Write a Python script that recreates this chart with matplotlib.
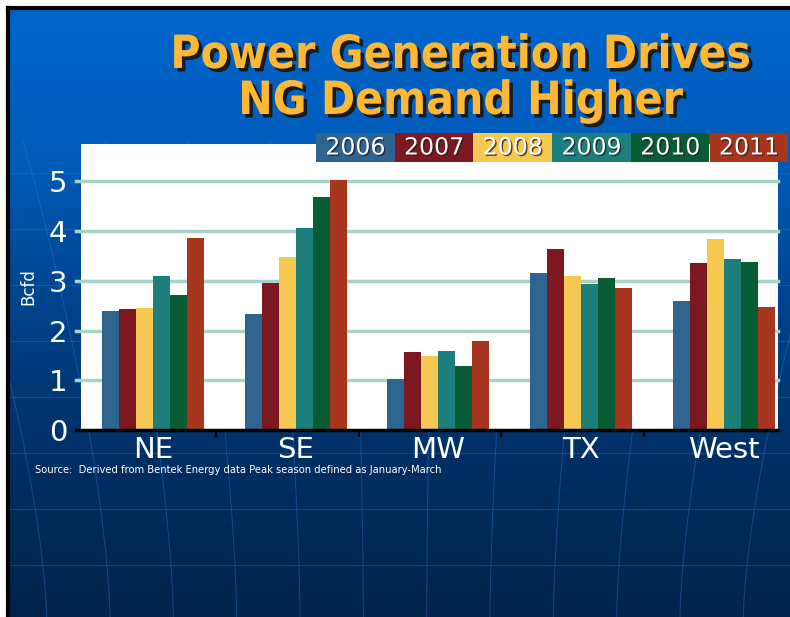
import numpy as np
import matplotlib
matplotlib.use("Agg")
import matplotlib.pyplot as plt
import matplotlib.patheffects as pe
from matplotlib.patches import Rectangle
from matplotlib.colors import LinearSegmentedColormap

regions = ["NE", "SE", "MW", "TX", "West"]
years = ["2006", "2007", "2008", "2009", "2010", "2011"]
colors = ["#2D6490", "#7D1821", "#F5C852", "#1C7F7B", "#0A5C34", "#A8361F"]

# Bcfd by region, one list per year
v2006 = [2.39, 2.33, 1.03, 3.16, 2.60]
v2007 = [2.43, 2.96, 1.57, 3.64, 3.36]
v2008 = [2.45, 3.48, 1.49, 3.10, 3.84]
v2009 = [3.10, 4.06, 1.59, 2.94, 3.44]
v2010 = [2.72, 4.69, 1.29, 3.06, 3.38]
v2011 = [3.86, 5.03, 1.79, 2.86, 2.47]
series = [v2006, v2007, v2008, v2009, v2010, v2011]

title = "Power Generation Drives\nNG Demand Higher"
source = "Source:  Derived from Bentek Energy data Peak season defined as January-March"

W, H = 790, 617
fig = plt.figure(figsize=(W / 100, H / 100), dpi=100, facecolor="white")

# slide background: blue gradient with faint globe grid (pixel coords, y down)
bg = fig.add_axes([8 / W, 0, 1 - 8 / W, 1 - 8 / H])
bg.set_axis_off()
cmap = LinearSegmentedColormap.from_list(
    "slide", ["#0066CC", "#005BB8", "#00428A", "#002E62", "#00244C"])
grad = np.linspace(0, 1, 256).reshape(-1, 1)
bg.imshow(grad, aspect="auto", cmap=cmap, extent=[8, W, H, 8])
bg.set_xlim(8, W)
bg.set_ylim(H, 8)
t = np.linspace(0, 1, 100)
for x0 in np.linspace(-80, 870, 16):
    xs = x0 + (x0 - 400) * 0.3 * (1 - t) ** 1.5
    bg.plot(xs, 140 + t * (H - 140), color="#2F78D0", lw=0.8, alpha=0.4)
for yy in np.arange(173, 600, 56):
    bg.plot([8, W], [yy, yy], color="#2F78D0", lw=0.8, alpha=0.35)
bg.plot([8, 8], [8, H], color="black", lw=3, clip_on=False)
bg.plot([8, W], [8, 8], color="black", lw=3, clip_on=False)

# chart
ax = fig.add_axes([81 / W, (H - 430) / H, (778 - 81) / W, (430 - 144) / H])
ax.set_facecolor("white")
x = np.arange(len(regions))
bw = 0.119
for i, (vals, c) in enumerate(zip(series, colors)):
    ax.bar(x + (i - 2.5) * bw, vals, width=bw, color=c, zorder=3)

ax.set_xlim(-0.505, 4.38)
ax.set_ylim(0, 5.75)
ax.set_yticks(range(6))
for yv in range(1, 6):
    ax.axhline(yv, color="#A9D3C6", lw=2.5, zorder=1, xmin=-0.007, clip_on=False)
ax.axhline(0, color="black", lw=2.5, zorder=4, xmin=-0.007, clip_on=False)
ax.set_xticks(x)
ax.set_xticklabels(regions)
ax.set_xticks(x[:-1] + 0.44, minor=True)
ax.tick_params(axis="x", which="minor", length=5, width=1.5, color="black",
               direction="out")
ax.tick_params(axis="x", which="major", length=0, pad=4, labelsize=21,
               labelcolor="white")
ax.tick_params(axis="y", length=0, pad=10, labelsize=21, labelcolor="white")
for s in ax.spines.values():
    s.set_visible(False)
ax.set_ylabel("Bcfd", color="white", fontsize=12, labelpad=8)

# title, one text per line so the baselines sit where the slide has them
shadow = [pe.withSimplePatchShadow(offset=(2.5, -2.5), shadow_rgbFace="#1A1A1A",
                                   alpha=1.0)]
for line, base in zip(title.split("\n"), [68, 114]):
    fig.text(461 / W, 1 - base / H, line, ha="center", va="baseline",
             fontsize=33, fontweight="bold", fontstretch="condensed",
             family="DejaVu Sans", color="#FFB833", path_effects=shadow)

# legend as colored boxes
bx0, bwid, by0, bh = 316, 78.7, 133, 29
for i, (yr, c) in enumerate(zip(years, colors)):
    left = bx0 + i * bwid
    fig.patches.append(Rectangle((left / W, 1 - (by0 + bh) / H), bwid / W, bh / H,
                                 transform=fig.transFigure, facecolor=c,
                                 edgecolor="none", zorder=5))
    fig.text((left + bwid / 2) / W, 1 - (by0 + bh / 2) / H, yr, ha="center",
             va="center", fontsize=17, color="white", zorder=6,
             path_effects=[pe.withSimplePatchShadow(offset=(1, -1),
                                                    shadow_rgbFace="#222222",
                                                    alpha=0.8)])

fig.text(35 / W, 1 - 470 / H, source, ha="left", va="center", fontsize=8,
         fontstretch="condensed", family="DejaVu Sans", color="white")

fig.savefig("out.png", dpi=100, facecolor=fig.get_facecolor())
